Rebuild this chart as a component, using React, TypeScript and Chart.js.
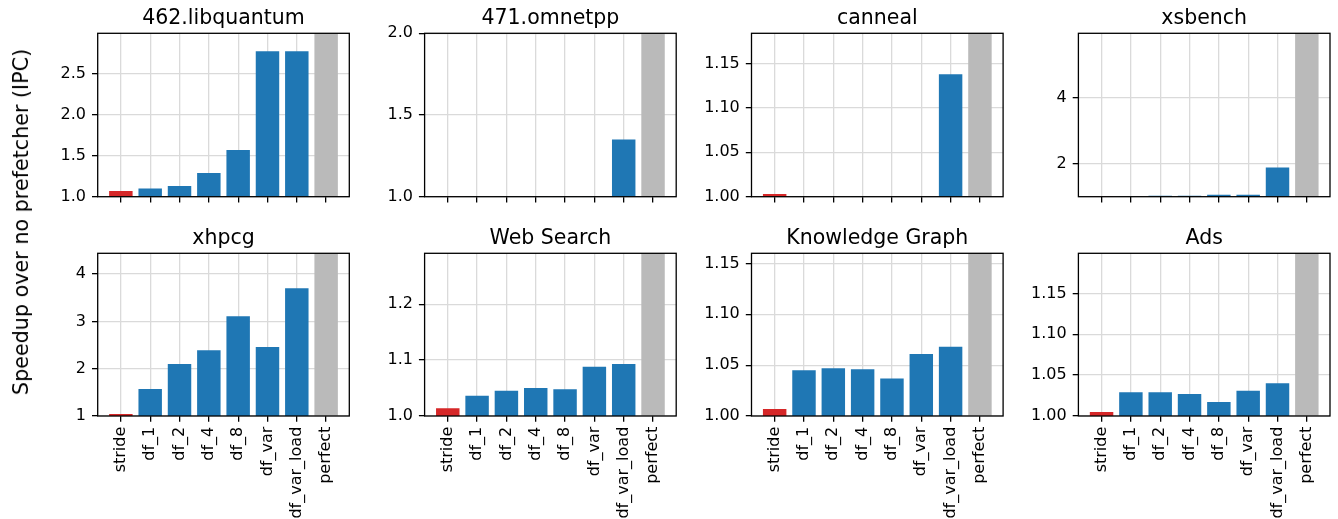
import React, { useEffect, useRef } from 'react';
import { Chart, registerables } from 'chart.js';

Chart.register(...registerables);

// Prefetcher configurations shown on every panel's x axis
const categories = ['stride', 'df_1', 'df_2', 'df_4', 'df_8', 'df_var', 'df_var_load', 'perfect'];

// IPC speedup over no prefetcher, one value per configuration
const libquantum = [1.07, 1.10, 1.13, 1.29, 1.57, 2.77, 2.77, 2.99];
const omnetpp = [1.0, 1.0, 1.0, 1.0, 1.0, 1.0, 1.35, 2.0];
const canneal = [1.003, 1.0, 1.0, 1.0, 1.0, 1.0, 1.138, 1.184];
const xsbench = [1.0, 1.0, 1.03, 1.03, 1.06, 1.06, 1.89, 5.96];
const xhpcg = [1.04, 1.57, 2.10, 2.39, 3.11, 2.46, 3.70, 4.44];
const webSearch = [1.014, 1.036, 1.045, 1.050, 1.048, 1.088, 1.093, 1.291];
const knowledgeGraph = [1.007, 1.045, 1.047, 1.046, 1.037, 1.061, 1.068, 1.160];
const ads = [1.005, 1.029, 1.029, 1.027, 1.017, 1.031, 1.040, 1.199];

// Y tick labels per panel
const libquantumTicks = ['1.0', '1.5', '2.0', '2.5'];
const omnetppTicks = ['1.0', '1.5', '2.0'];
const cannealTicks = ['1.00', '1.05', '1.10', '1.15'];
const xsbenchTicks = ['2', '4'];
const xhpcgTicks = ['1', '2', '3', '4'];
const webSearchTicks = ['1.0', '1.1', '1.2'];
const knowledgeGraphTicks = ['1.00', '1.05', '1.10', '1.15'];
const adsTicks = ['1.00', '1.05', '1.10', '1.15'];

const titles = ['462.libquantum', '471.omnetpp', 'canneal', 'xsbench', 'xhpcg', 'Web Search', 'Knowledge Graph', 'Ads'];
const series = [libquantum, omnetpp, canneal, xsbench, xhpcg, webSearch, knowledgeGraph, ads];
const tickSets = [libquantumTicks, omnetppTicks, cannealTicks, xsbenchTicks, xhpcgTicks, webSearchTicks, knowledgeGraphTicks, adsTicks];

const Y_MIN = 1.0;
const Y_LABEL = 'Speedup over no prefetcher (IPC)';

const FONT = "'DejaVu Sans', sans-serif";
const BLUE = '#1f77b4';
const RED = '#d62728';
const GRAY = '#bababa';
const GRID = '#dadada';

const barColors = categories.map((c) => (c === 'stride' ? RED : c === 'perfect' ? GRAY : BLUE));

// Plot-area geometry (page pixels)
const AX_LEFT0 = 97.7;
const AX_STEP = 326.9;
const AX_W = 251.6;
const ROWS = [
  { axTop: 33.3, axH: 163.4, canvasTop: 0, canvasH: 280 },
  { axTop: 253.3, axH: 162.7, canvasTop: 213, canvasH: 306 },
];
const Y_AXIS_W = 90;
const CANVAS_W = 348;

type PanelProps = { idx: number };

function Panel({ idx }: PanelProps) {
  const ref = useRef<HTMLCanvasElement | null>(null);
  const row = Math.floor(idx / 4);
  const col = idx % 4;
  const r = ROWS[row];
  const axLeft = AX_LEFT0 + AX_STEP * col;
  const canvasLeft = Math.floor(axLeft) - Y_AXIS_W;
  const leftW = axLeft - canvasLeft;
  const rightPad = CANVAS_W - leftW - AX_W;
  const topPad = r.axTop - r.canvasTop;
  const xAxisH = r.canvasH - topPad - r.axH;

  useEffect(() => {
    const canvas = ref.current;
    if (!canvas) return;
    const values = series[idx];
    const tickLabels = tickSets[idx];
    const title = titles[idx];
    const showX = row === 1;

    const framePlugin = {
      id: 'frameAndTitle',
      afterDatasetsDraw(chart: Chart) {
        const { ctx, chartArea: a } = chart;
        ctx.save();
        ctx.strokeStyle = '#000';
        ctx.lineWidth = 1.3;
        ctx.strokeRect(a.left, a.top, a.right - a.left, a.bottom - a.top);
        ctx.fillStyle = '#000';
        ctx.font = `20.5px ${FONT}`;
        ctx.textAlign = 'center';
        ctx.textBaseline = 'alphabetic';
        ctx.fillText(title, (a.left + a.right) / 2, a.top - 9.6);
        ctx.restore();
      },
    };

    const chart = new Chart(canvas, {
      type: 'bar',
      data: {
        datasets: [
          {
            data: values.map((v, i) => ({ x: i, y: v })),
            backgroundColor: barColors,
            barPercentage: 0.8,
            categoryPercentage: 1,
            clip: 0,
          } as any,
        ],
      },
      options: {
        animation: false,
        responsive: false,
        devicePixelRatio: 1,
        layout: { padding: { left: 0, top: topPad, right: rightPad, bottom: 0 } },
        plugins: {
          legend: { display: false },
          tooltip: { enabled: false },
          title: { display: false },
        },
        scales: {
          x: {
            type: 'linear',
            min: -0.79,
            max: categories.length - 1 + 0.79,
            offset: false,
            border: { display: false },
            grid: {
              offset: false,
              color: GRID,
              lineWidth: 1.3,
              drawTicks: true,
              tickLength: 5.7,
              tickColor: '#000',
              tickWidth: 1.3,
            },
            ticks: {
              autoSkip: false,
              minRotation: 90,
              maxRotation: 90,
              padding: 5,
              color: '#000',
              font: { family: FONT, size: 16 },
              callback: (_v: any, i: number) => (showX ? categories[i] : ''),
            },
            afterBuildTicks: (s: any) => {
              s.ticks = categories.map((_c, i) => ({ value: i }));
            },
            afterFit: (s: any) => {
              s.height = xAxisH;
            },
          },
          y: {
            type: 'linear',
            position: 'left',
            min: Y_MIN,
            max: values[values.length - 1],
            beginAtZero: false,
            border: { display: false },
            grid: {
              color: GRID,
              lineWidth: 1.3,
              drawTicks: true,
              tickLength: 5.7,
              tickColor: '#000',
              tickWidth: 1.3,
            },
            ticks: {
              padding: 6,
              color: '#000',
              font: { family: FONT, size: 16 },
              callback: (_v: any, i: number) => tickLabels[i],
            },
            afterBuildTicks: (s: any) => {
              s.ticks = tickLabels.map((t) => ({ value: parseFloat(t) }));
            },
            afterFit: (s: any) => {
              s.width = leftW;
            },
          },
        },
      } as any,
      plugins: [framePlugin],
    });
    return () => chart.destroy();
  }, []);

  return (
    <canvas
      ref={ref}
      width={CANVAS_W}
      height={r.canvasH}
      style={{ position: 'absolute', left: canvasLeft, top: r.canvasTop, width: CANVAS_W, height: r.canvasH }}
    />
  );
}

export default function App() {
  return (
    <div
      style={{
        position: 'absolute',
        left: 0,
        top: 0,
        width: 1338,
        height: 519,
        overflow: 'hidden',
        background: '#fff',
      }}
    >
      {titles.map((_t, i) => (
        <Panel key={i} idx={i} />
      ))}
      <div
        style={{
          position: 'absolute',
          left: 20.5,
          top: 222,
          transform: 'translate(-50%, -50%) rotate(-90deg)',
          whiteSpace: 'nowrap',
          fontFamily: FONT,
          fontSize: 20.7,
          color: '#000',
        }}
      >
        {Y_LABEL}
      </div>
    </div>
  );
}
